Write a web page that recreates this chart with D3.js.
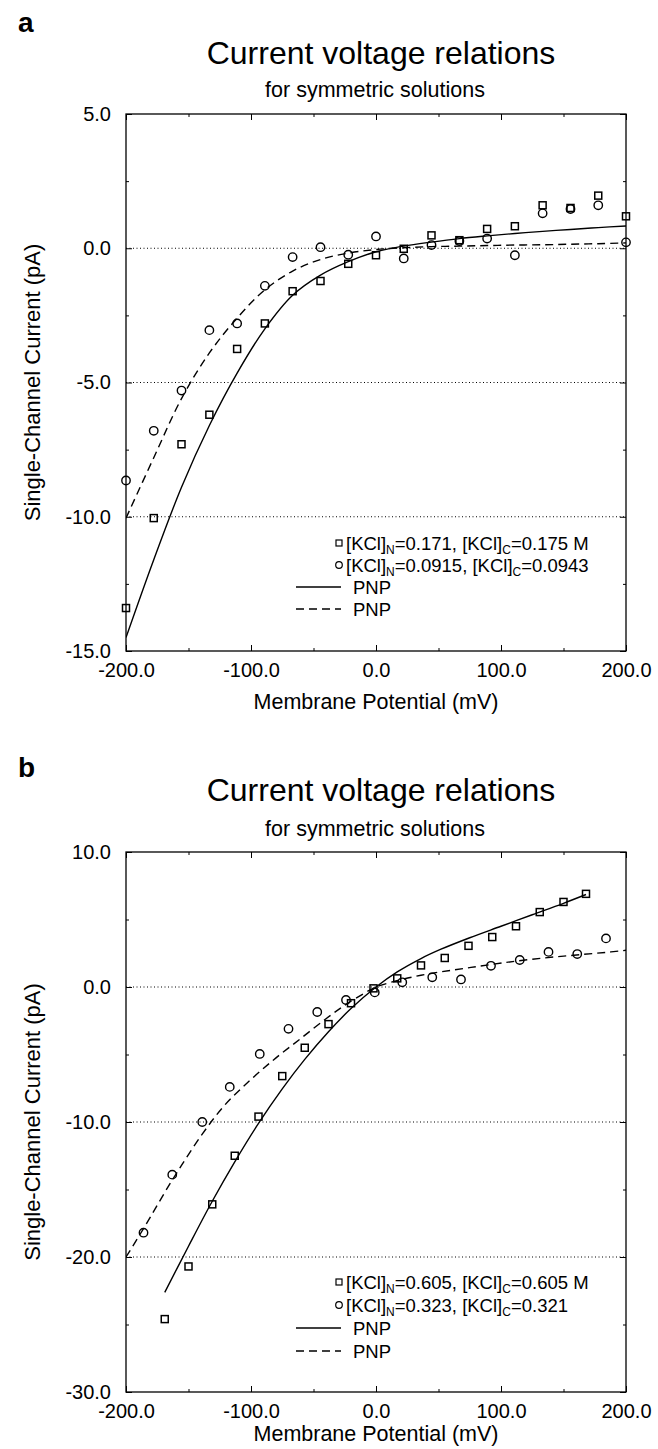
<!DOCTYPE html>
<html><head><meta charset="utf-8">
<script src="https://cdn.jsdelivr.net/npm/d3@7"></script>
<style>
body{margin:0;background:#fff;}
text{font-family:"Liberation Sans",Arial,Helvetica,sans-serif;fill:#000;}
</style>
</head><body>
<svg id="chart" width="658" height="1449"></svg>
<script>
// ---------- Panel a data ----------
const voltA = [-200,-177.8,-155.6,-133.3,-111.1,-88.9,-66.7,-44.4,-22.2,0,22.2,44.4,66.7,88.9,111.1,133.3,155.6,177.8,200];
const squareA = [-13.4,-10.05,-7.3,-6.2,-3.75,-2.8,-1.6,-1.22,-0.58,-0.26,-0.02,0.48,0.3,0.72,0.82,1.6,1.5,1.96,1.19];
const circleA = [-8.65,-6.8,-5.3,-3.05,-2.8,-1.4,-0.33,0.04,-0.24,0.44,-0.38,0.12,0.27,0.36,-0.26,1.3,1.46,1.6,0.22];
const solidVoltA = [-200,-177.8,-155.6,-133.3,-111.1,-88.9,-66.7,-44.4,-22.2,0,22.2,44.4,66.7,88.9,111.1,133.3,155.6,177.8,200];
const solidA = [-14.5,-11.6,-8.9,-6.6,-4.65,-3.0,-1.75,-1.0,-0.5,-0.13,0.08,0.23,0.36,0.46,0.55,0.63,0.7,0.77,0.83];
const dashVoltA = [-200,-177.8,-155.6,-133.3,-111.1,-88.9,-66.7,-44.4,-22.2,0,22.2,44.4,66.7,88.9,111.1,133.3,155.6,177.8,200];
const dashA = [-10.05,-7.8,-5.6,-3.9,-2.6,-1.55,-0.85,-0.42,-0.18,-0.05,0.02,0.06,0.08,0.1,0.12,0.13,0.15,0.17,0.2];
const legendA = [["0.171","0.175 M"],["0.0915","0.0943"]];

// ---------- Panel b data ----------
const squareVoltB = [-169,-150,-131,-113,-94,-75,-57,-38,-20,-2,17,36,55,74,93,112,131,150,168];
const squareB = [-24.6,-20.7,-16.1,-12.5,-9.6,-6.6,-4.5,-2.75,-1.2,-0.1,0.64,1.6,2.15,3.05,3.7,4.5,5.55,6.3,6.9];
const circleVoltB = [-186,-163,-139,-117,-93,-70,-47,-24,-1,21,45,68,92,115,138,161,184];
const circleB = [-18.2,-13.9,-10.0,-7.4,-4.96,-3.1,-1.85,-0.96,-0.4,0.35,0.72,0.56,1.57,2.0,2.6,2.44,3.6];
const solidVoltB = [-169,-150,-131,-113,-94,-75,-57,-38,-20,0,17,36,52,75,100,125,150,168];
const solidB = [-22.62,-19.2,-15.87,-12.95,-10.1,-7.54,-5.36,-3.31,-1.6,0,1.12,2.11,2.8,3.65,4.5,5.35,6.2,6.85];
const dashVoltB = [-200,-186,-163,-139,-121,-100,-80,-60,-40,-25,-10,0,12,36,76,124,188,200];
const dashB = [-20,-17.9,-14.3,-10.9,-8.75,-6.85,-5.25,-3.8,-2.35,-1.35,-0.5,0,0.35,0.87,1.45,2.05,2.6,2.72];
const legendB = [["0.605","0.605 M"],["0.323","0.321"]];

const xTicks = [-200,-100,0,100,200];
const yTicksA = [5,0,-5,-10,-15];
const yTicksB = [10,0,-10,-20,-30];
const titleText = "Current voltage relations";
const subtitleText = "for symmetric solutions";
const xTitle = "Membrane Potential (mV)";
const yTitle = "Single-Channel Current (pA)";

const svg = d3.select("#chart");
const fmt = d => d.toFixed(1);

function panel(cfg){
  const g = svg.append("g");
  const L = 126, R = 626, T = cfg.top, B = cfg.bottom;
  const x = d3.scaleLinear().domain([-200,200]).range([L,R]);
  const y = d3.scaleLinear().domain(cfg.yDomain).range([B,T]);
  const cx = (L+R)/2;

  g.append("text").attr("x",18).attr("y",cfg.letterY).attr("font-size",28).attr("font-weight","bold").text(cfg.letter);
  g.append("text").attr("x",cx+5).attr("y",cfg.titleY).attr("text-anchor","middle").attr("font-size",32).text(titleText);
  g.append("text").attr("x",cx-1).attr("y",cfg.subY).attr("text-anchor","middle").attr("font-size",21.5).text(subtitleText);

  const yMajor = cfg.yTicks;
  g.append("g").selectAll("line").data(yMajor.slice(1,-1)).join("line")
    .attr("x1",L).attr("x2",R).attr("y1",d=>y(d)).attr("y2",d=>y(d))
    .attr("stroke","#000").attr("stroke-width",1).attr("stroke-dasharray","1,2.5");

  const step = cfg.yStep;
  const yMinor = d3.range(cfg.yDomain[0]+step/2, cfg.yDomain[1], step);
  const xMinor = [-150,-50,50,150];

  g.append("g").attr("transform",`translate(0,${B})`)
    .call(d3.axisBottom(x).tickValues(xTicks).tickFormat(fmt).tickSizeInner(-6).tickSizeOuter(0).tickPadding(12));
  g.append("g").attr("transform",`translate(0,${B})`)
    .call(d3.axisBottom(x).tickValues(xMinor).tickFormat("").tickSizeInner(-3).tickSizeOuter(0));
  g.append("g").attr("transform",`translate(0,${T})`)
    .call(d3.axisTop(x).tickValues(xTicks).tickFormat("").tickSizeInner(-6).tickSizeOuter(0));
  g.append("g").attr("transform",`translate(0,${T})`)
    .call(d3.axisTop(x).tickValues(xMinor).tickFormat("").tickSizeInner(-3).tickSizeOuter(0));
  g.append("g").attr("transform",`translate(${L},0)`)
    .call(d3.axisLeft(y).tickValues(yMajor).tickFormat(fmt).tickSizeInner(-6).tickSizeOuter(0).tickPadding(15));
  g.append("g").attr("transform",`translate(${L},0)`)
    .call(d3.axisLeft(y).tickValues(yMinor).tickFormat("").tickSizeInner(-3).tickSizeOuter(0));
  g.append("g").attr("transform",`translate(${R},0)`)
    .call(d3.axisRight(y).tickValues(yMajor).tickFormat("").tickSizeInner(-6).tickSizeOuter(0));
  g.append("g").attr("transform",`translate(${R},0)`)
    .call(d3.axisRight(y).tickValues(yMinor).tickFormat("").tickSizeInner(-3).tickSizeOuter(0));
  g.selectAll(".domain").remove();
  g.selectAll(".tick line").attr("stroke","#000").attr("stroke-width",1);
  g.selectAll(".tick text").attr("font-size",20).attr("font-family","'Liberation Sans',Arial,sans-serif").attr("fill","#000");

  g.append("rect").attr("x",L).attr("y",T).attr("width",R-L).attr("height",B-T)
    .attr("fill","none").attr("stroke","#000").attr("stroke-width",1.3);

  g.append("text").attr("x",cx).attr("y",cfg.xTitleY).attr("text-anchor","middle").attr("font-size",21.5).text(xTitle);
  g.append("text").attr("transform",`translate(40,${(T+B)/2}) rotate(-90)`).attr("text-anchor","middle").attr("font-size",22).text(yTitle);

  const clip = "clip"+cfg.letter;
  g.append("clipPath").attr("id",clip).append("rect").attr("x",L).attr("y",T).attr("width",R-L).attr("height",B-T);

  const line = d3.line().x(d=>x(d[0])).y(d=>y(d[1])).curve(d3.curveCatmullRom.alpha(0.5));
  g.append("path").datum(d3.zip(cfg.solidV,cfg.solid)).attr("d",line)
    .attr("fill","none").attr("stroke","#000").attr("stroke-width",1.4).attr("clip-path",`url(#${clip})`);
  g.append("path").datum(d3.zip(cfg.dashV,cfg.dash)).attr("d",line)
    .attr("fill","none").attr("stroke","#000").attr("stroke-width",1.4).attr("stroke-dasharray","8,5").attr("clip-path",`url(#${clip})`);

  const s = 7;
  g.append("g").selectAll("rect").data(d3.zip(cfg.sqV,cfg.sq)).join("rect")
    .attr("x",d=>x(d[0])-s/2).attr("y",d=>y(d[1])-s/2).attr("width",s).attr("height",s)
    .attr("fill","none").attr("stroke","#000").attr("stroke-width",1.5);
  g.append("g").selectAll("circle").data(d3.zip(cfg.ciV,cfg.ci)).join("circle")
    .attr("cx",d=>x(d[0])).attr("cy",d=>y(d[1])).attr("r",4.2)
    .attr("fill","none").attr("stroke","#000").attr("stroke-width",1.4);

  const ly = cfg.legendY, dy = cfg.legendDy;
  const lg = g.append("g");
  lg.append("rect").attr("x",336).attr("y",ly-3).attr("width",6).attr("height",6).attr("fill","none").attr("stroke","#000").attr("stroke-width",1.2);
  lg.append("circle").attr("cx",339).attr("cy",ly+dy).attr("r",3.3).attr("fill","none").attr("stroke","#000").attr("stroke-width",1.2);
  lg.append("line").attr("x1",296).attr("x2",341).attr("y1",ly+2*dy).attr("y2",ly+2*dy).attr("stroke","#000").attr("stroke-width",1.3);
  lg.append("line").attr("x1",296).attr("x2",341).attr("y1",ly+3*dy).attr("y2",ly+3*dy).attr("stroke","#000").attr("stroke-width",1.3).attr("stroke-dasharray","8,5");
  cfg.legend.forEach((v,i)=>{
    const t = lg.append("text").attr("x",346).attr("y",ly+i*dy+7).attr("font-size",18.5);
    t.append("tspan").text("[KCl]");
    t.append("tspan").attr("font-size",12).attr("dy",4).text("N");
    t.append("tspan").attr("dy",-4).text("="+v[0]+", [KCl]");
    t.append("tspan").attr("font-size",12).attr("dy",4).text("C");
    t.append("tspan").attr("dy",-4).text("="+v[1]);
  });
  ["PNP","PNP"].forEach((v,i)=>{
    lg.append("text").attr("x",353).attr("y",ly+(i+2)*dy+7).attr("font-size",18.5).text(v);
  });
}

panel({letter:"a",letterY:32,titleY:64,subY:97,top:114,bottom:651,yDomain:[-15,5],yTicks:yTicksA,yStep:5,
  xTitleY:709,legendY:543,legendDy:22,legend:legendA,
  sqV:voltA,sq:squareA,ciV:voltA,ci:circleA,solidV:solidVoltA,solid:solidA,dashV:dashVoltA,dash:dashA});
panel({letter:"b",letterY:777,titleY:801,subY:836,top:852,bottom:1392,yDomain:[-30,10],yTicks:yTicksB,yStep:10,
  xTitleY:1441,legendY:1282,legendDy:23,legend:legendB,
  sqV:squareVoltB,sq:squareB,ciV:circleVoltB,ci:circleB,solidV:solidVoltB,solid:solidB,dashV:dashVoltB,dash:dashB});
</script>
</body></html>
